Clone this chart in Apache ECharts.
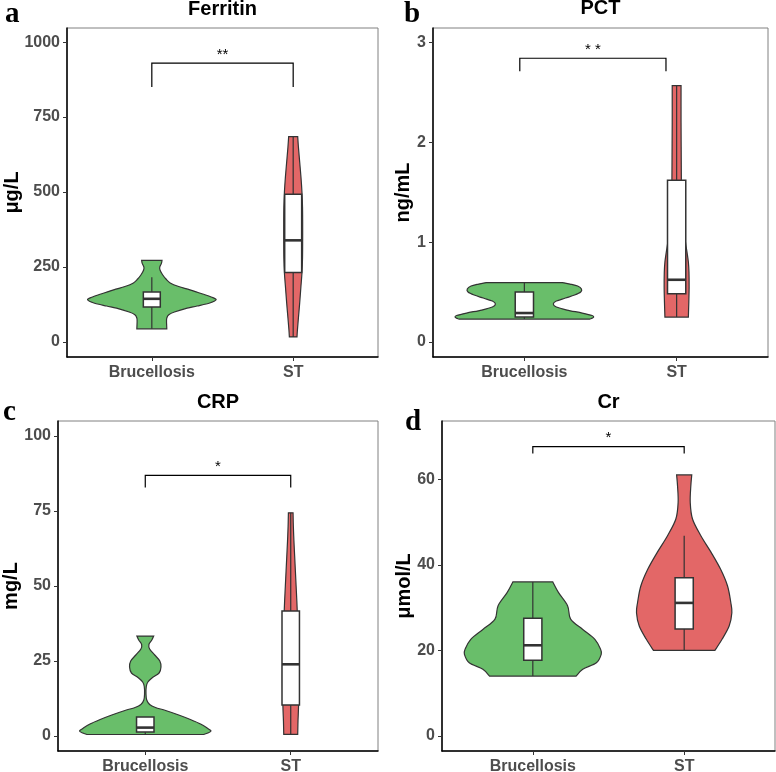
<!DOCTYPE html>
<html>
<head>
<meta charset="utf-8">
<script src="https://cdn.jsdelivr.net/npm/echarts@6/dist/echarts.min.js"></script>
<style>
  html, body { margin: 0; padding: 0; background: #fff; }
  #main { width: 776px; height: 772px; }
</style>
</head>
<body>
<div id="main"></div>
<script>
var groups = ['Brucellosis', 'ST'];
var fills = ['#69BE6A', '#E36767'];

// violin outlines: [value, half width in x-axis units]
var ferritinBru = [[272,0.072],[262,0.068],[250,0.056],[240,0.058],[225,0.075],[210,0.1],[197,0.13],[185,0.19],[174,0.27],[160,0.36],[150,0.42],[141,0.455],[130,0.41],[120,0.32],[113,0.25],[100,0.16],[91,0.12],[80,0.106],[69,0.104],[55,0.105],[44,0.106]];
var ferritinST = [[685,0.032],[650,0.037],[600,0.046],[550,0.055],[500,0.062],[450,0.066],[400,0.067],[340,0.067],[280,0.066],[230,0.062],[180,0.054],[130,0.046],[80,0.037],[40,0.03],[17,0.027]];
var pctBru = [[0.595,0.25],[0.58,0.3],[0.56,0.35],[0.53,0.375],[0.5,0.37],[0.47,0.33],[0.44,0.27],[0.41,0.21],[0.38,0.19],[0.35,0.21],[0.32,0.28],[0.29,0.38],[0.265,0.445],[0.25,0.455],[0.235,0.44],[0.23,0.43]];
var pctST = [[2.567,0.029],[2.2,0.029],[1.9,0.03],[1.62,0.031],[1.4,0.035],[1.2,0.045],[1.0,0.058],[0.9,0.068],[0.8,0.077],[0.7,0.081],[0.55,0.082],[0.4,0.08],[0.3,0.078],[0.25,0.077]];
var crpBru = [[33.3,0.058],[32,0.045],[30.5,0.025],[29,0.03],[27,0.065],[25,0.1],[23,0.108],[21,0.095],[19.5,0.05],[18,0.018],[16.5,0.007],[14,0.005],[12,0.01],[10.5,0.03],[9.5,0.07],[8.5,0.14],[7,0.23],[5.5,0.31],[4,0.38],[2.5,0.43],[1.7,0.452],[1.0,0.43],[0.5,0.4]];
var crpST = [[74.4,0.016],[70,0.018],[65,0.022],[60,0.027],[55,0.032],[50,0.037],[45,0.042],[40,0.046],[30,0.053],[20,0.057],[10.3,0.054],[5,0.05],[0.55,0.048]];
var crBru = [[36,0.132],[33.5,0.17],[30.4,0.23],[27.3,0.25],[24.9,0.33],[22.6,0.41],[20.3,0.447],[19.1,0.452],[17.1,0.42],[15.6,0.33],[14,0.286]];
var crST = [[61,0.05],[58.5,0.044],[54.6,0.04],[50.7,0.055],[46.8,0.11],[42.9,0.178],[39,0.24],[35.1,0.286],[31.2,0.308],[28.8,0.315],[25.7,0.297],[22.6,0.25],[20,0.203]];

// boxes: [x, lower whisker, q1, median, q3, upper whisker]
var ferritinBox = [[1,44,117,144,167,216],[2,17,232,339,493,685]];
var pctBox = [[1,0.23,0.25,0.29,0.5,0.595],[2,0.25,0.483,0.623,1.62,2.567]];
var crpBox = [[1,0.5,1.3,2.8,6.3,6.3],[2,0.55,10.3,23.9,41.7,74.4]];
var crBox = [[1,14,17.7,21.2,27.5,36],[2,20,25,31.1,37,46.8]];

// significance brackets: [x1, x2, y low, y high], label
var ferritinSig = [[1,2,850,930]], ferritinSigText = '**';
var pctSig = [[0.97,1.93,2.71,2.84]], pctSigText = '* *';
var crpSig = [[1,2,82.8,86.9]], crpSigText = '*';
var crSig = [[1,2,66.0,67.6]], crSigText = '*';

// y axis ticks
var ferritinTicks = [0,250,500,750,1000];
var pctTicks = [0,1,2,3];
var crpTicks = [0,25,50,75,100];
var crTicks = [0,20,40,60];

var panels = [
  { title: 'Ferritin', unit: 'μg/L', letter: 'a', min: -50, max: 1047, ticks: ferritinTicks,
    violins: [ferritinBru, ferritinST], box: ferritinBox, sig: ferritinSig, sigText: ferritinSigText,
    grid: {left: 67, top: 28, width: 311, height: 329}, titleY: 9, unitX: 12.5, letterPos: [5, 29] },
  { title: 'PCT', unit: 'ng/mL', letter: 'b', min: -0.15, max: 3.143, ticks: pctTicks,
    violins: [pctBru, pctST], box: pctBox, sig: pctSig, sigText: pctSigText,
    grid: {left: 433, top: 28, width: 335, height: 329}, titleY: 8, unitX: 403, letterPos: [404, 29] },
  { title: 'CRP', unit: 'mg/L', letter: 'c', min: -5, max: 105, ticks: crpTicks,
    violins: [crpBru, crpST], box: crpBox, sig: crpSig, sigText: crpSigText,
    grid: {left: 58, top: 421, width: 320, height: 330}, titleY: 402, unitX: 11.5, letterPos: [3, 427] },
  { title: 'Cr', unit: 'μmol/L', letter: 'd', min: -3.5, max: 73.6, ticks: crTicks,
    violins: [crBru, crST], box: crBox, sig: crSig, sigText: crSigText,
    grid: {left: 442, top: 421, width: 333, height: 330}, titleY: 402, unitX: 404.5, letterPos: [405, 437] }
];

// smooth curve through pixel points (Catmull-Rom as cubic segments)
function curveThrough(pts) {
  var s = '';
  for (var i = 0; i < pts.length - 1; i++) {
    var p0 = pts[Math.max(i - 1, 0)], p1 = pts[i], p2 = pts[i + 1], p3 = pts[Math.min(i + 2, pts.length - 1)];
    var c1 = [p1[0] + (p2[0] - p0[0]) / 6, p1[1] + (p2[1] - p0[1]) / 6];
    var c2 = [p2[0] - (p3[0] - p1[0]) / 6, p2[1] - (p3[1] - p1[1]) / 6];
    s += 'C' + c1[0] + ',' + c1[1] + ' ' + c2[0] + ',' + c2[1] + ' ' + p2[0] + ',' + p2[1];
  }
  return s;
}

var chart = echarts.init(document.getElementById('main'));
var grids = [], xAxes = [], yAxes = [], series = [], graphics = [];
var lineCol = '#333333';
var boxHalf = 0.06;

panels.forEach(function (p, i) {
  grids.push(Object.assign({ show: true, borderColor: '#808080', borderWidth: 1,
                             containLabel: false, outerBoundsMode: 'none' }, p.grid));
  xAxes.push({
    type: 'value', gridIndex: i, min: 0.4, max: 2.6,
    splitLine: { show: false },
    axisLine: { onZero: false, lineStyle: { color: '#000', width: 1.5 } },
    axisTick: { length: 4, customValues: [1, 2], lineStyle: { color: lineCol } },
    axisLabel: {
      customValues: [1, 2], margin: 8, color: '#4D4D4D', fontSize: 16, fontWeight: 'bold',
      fontFamily: 'Liberation Sans',
      formatter: function (v) { return groups[Math.round(v) - 1]; }
    }
  });
  yAxes.push({
    type: 'value', gridIndex: i, min: p.min, max: p.max,
    splitLine: { show: false },
    axisLine: { show: true, onZero: false, lineStyle: { color: '#000', width: 1.5 } },
    axisTick: { show: true, length: 4, customValues: p.ticks, lineStyle: { color: lineCol } },
    axisLabel: {
      customValues: p.ticks, margin: 7, color: '#4D4D4D', fontSize: 16, fontWeight: 'bold',
      fontFamily: 'Liberation Sans',
      formatter: function (v) { return String(v); }
    }
  });

  series.push({
    type: 'custom', xAxisIndex: i, yAxisIndex: i,
    data: [[1, 0], [2, 0]],
    renderItem: function (params, api) {
      var prof = p.violins[params.dataIndex];
      var cx = api.value(0);
      var right = prof.map(function (d) { return api.coord([cx + d[1], d[0]]); });
      var left = prof.map(function (d) { return api.coord([cx - d[1], d[0]]); }).reverse();
      var path = 'M' + right[0][0] + ',' + right[0][1] + curveThrough(right) +
        'L' + left[0][0] + ',' + left[0][1] + curveThrough(left) + 'Z';
      return {
        type: 'path',
        shape: { pathData: path },
        style: { fill: fills[params.dataIndex], stroke: lineCol, lineWidth: 1.2 }
      };
    }
  });

  series.push({
    type: 'custom', xAxisIndex: i, yAxisIndex: i,
    data: p.box,
    encode: { x: 0, y: [1, 2, 3, 4, 5] },
    renderItem: function (params, api) {
      var x = api.value(0);
      var lo = api.coord([x, api.value(1)]), q1 = api.coord([x - boxHalf, api.value(2)]);
      var med = api.value(3), q3 = api.coord([x + boxHalf, api.value(4)]), hi = api.coord([x, api.value(5)]);
      var ml = api.coord([x - boxHalf, med]), mr = api.coord([x + boxHalf, med]);
      return {
        type: 'group',
        children: [
          { type: 'line', shape: { x1: hi[0], y1: hi[1], x2: hi[0], y2: q3[1] }, style: { stroke: lineCol, lineWidth: 1.2 } },
          { type: 'line', shape: { x1: lo[0], y1: lo[1], x2: lo[0], y2: q1[1] }, style: { stroke: lineCol, lineWidth: 1.2 } },
          { type: 'rect', shape: { x: q1[0], y: q3[1], width: q3[0] - q1[0], height: q1[1] - q3[1] },
            style: { fill: '#fff', stroke: lineCol, lineWidth: 1.5 } },
          { type: 'line', shape: { x1: ml[0], y1: ml[1], x2: mr[0], y2: mr[1] }, style: { stroke: lineCol, lineWidth: 2.6 } }
        ]
      };
    }
  });

  series.push({
    type: 'custom', xAxisIndex: i, yAxisIndex: i,
    data: p.sig,
    renderItem: function (params, api) {
      var a = api.coord([api.value(0), api.value(2)]), b = api.coord([api.value(0), api.value(3)]);
      var c = api.coord([api.value(1), api.value(3)]), d = api.coord([api.value(1), api.value(2)]);
      return {
        type: 'group',
        children: [
          { type: 'polyline', shape: { points: [a, b, c, d] }, style: { stroke: '#000', lineWidth: 1.2, fill: null } },
          { type: 'text', x: (b[0] + c[0]) / 2, y: b[1] - 1,
            style: { text: p.sigText, textAlign: 'center', textVerticalAlign: 'bottom',
                     font: '15px "Liberation Sans"', fill: '#000' } }
        ]
      };
    }
  });

  graphics.push({
    type: 'text', x: p.grid.left + p.grid.width / 2, y: p.titleY,
    style: { text: p.title, textAlign: 'center', textVerticalAlign: 'middle',
             font: 'bold 20px "Liberation Sans"', fill: '#000' }
  });
  graphics.push({
    type: 'text', x: p.unitX, y: p.grid.top + p.grid.height / 2, rotation: Math.PI / 2,
    style: { text: p.unit, textAlign: 'center', textVerticalAlign: 'middle',
             font: 'bold 20px "Liberation Sans"', fill: '#000' }
  });
  graphics.push({
    type: 'text', x: p.letterPos[0], y: p.letterPos[1],
    style: { text: p.letter, textAlign: 'left', textVerticalAlign: 'bottom',
             font: 'bold 29px "Liberation Serif"', fill: '#000' }
  });
});

chart.setOption({
  animation: false,
  backgroundColor: '#fff',
  grid: grids,
  xAxis: xAxes,
  yAxis: yAxes,
  series: series,
  graphic: graphics
});
</script>
</body>
</html>
